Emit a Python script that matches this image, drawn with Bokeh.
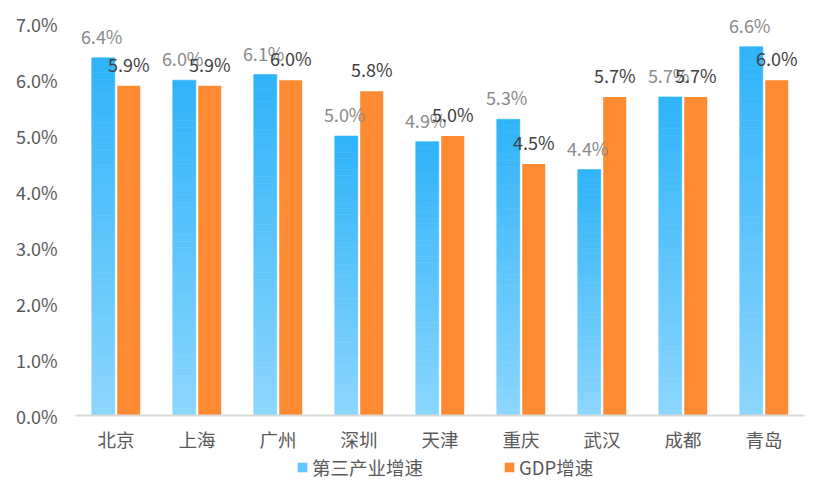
from bokeh.plotting import figure
from bokeh.layouts import column
from bokeh.models import (ColumnDataSource, FactorRange, FixedTicker, PrintfTickFormatter,
                          Legend, LegendItem, Range1d)
from bokeh.transform import dodge
from bokeh.core.properties import value
from bokeh.embed import file_html
from bokeh.resources import INLINE

cities = ["北京", "上海", "广州", "深圳", "天津", "重庆", "武汉", "成都", "青岛"]
tertiary = [6.4, 6.0, 6.1, 5.0, 4.9, 5.3, 4.4, 5.7, 6.6]
gdp = [5.9, 5.9, 6.0, 5.8, 5.0, 4.5, 5.7, 5.7, 6.0]
y_ticks = [0, 1, 2, 3, 4, 5, 6, 7]
series_names = ["第三产业增速", "GDP增速"]

FONT = "Noto Sans CJK SC"
TOP_C = (0x2E, 0xB3, 0xF9)
BOT_C = (0x8C, 0xD6, 0xFE)
ORANGE = "#FE8A32"
N = 50
OFF = 0.157
BW = 0.284

def mix(t):
    r = [int(round(BOT_C[i] + (TOP_C[i] - BOT_C[i]) * t)) for i in range(3)]
    return "#%02x%02x%02x" % tuple(r)

# gradient slices for the blue series
sx, sb, st, sc = [], [], [], []
for c, v in zip(cities, tertiary):
    for k in range(N):
        sx.append(c)
        sb.append(v * k / N)
        st.append(v * (k + 1) / N)
        sc.append(mix((k + 0.5) / N))
slices = ColumnDataSource(dict(x=sx, bottom=sb, top=st, color=sc))

src = ColumnDataSource(dict(
    x=cities, t=tertiary, g=gdp,
    tl=[f"{v:.1f}%" for v in tertiary],
    gl=[f"{v:.1f}%" for v in gdp],
))

p = figure(x_range=FactorRange(*cities), y_range=Range1d(0, 7.39),
           width=820, height=455, output_backend="svg", toolbar_location=None,
           min_border_left=75, min_border_right=16, min_border_top=2,
           min_border_bottom=40)
p.outline_line_color = None
p.xgrid.grid_line_color = None
p.ygrid.grid_line_color = None

p.vbar(x=dodge("x", -OFF, range=p.x_range), bottom="bottom", top="top", width=BW,
       source=slices, fill_color="color", line_color="color", line_width=0.6)
p.vbar(x=dodge("x", OFF, range=p.x_range), top="g", bottom=0, width=BW,
       source=src, fill_color=ORANGE, line_color=None)

p.text(x=dodge("x", -OFF - 0.02, range=p.x_range), y="t", text="tl", source=src,
       text_align="center", text_baseline="middle", y_offset=-22,
       text_font=value(FONT), text_font_size="18px", text_color="#8A8A8A")
p.text(x=dodge("x", OFF, range=p.x_range), y="g", text="gl", source=src,
       text_align="center", text_baseline="middle", y_offset=-22,
       text_font=value(FONT), text_font_size="18px", text_color="#404040")

ya = p.yaxis[0]
ya.ticker = FixedTicker(ticks=y_ticks)
ya.formatter = PrintfTickFormatter(format="%.1f%%")
ya.axis_line_color = None
ya.major_tick_line_color = None
ya.minor_tick_line_color = None
ya.major_label_standoff = 12
ya.major_label_text_font = FONT
ya.major_label_text_font_size = "18px"
ya.major_label_text_color = "#595959"

xa = p.xaxis[0]
xa.axis_line_color = "#D9D9D9"
xa.axis_line_width = 2
xa.major_tick_line_color = None
xa.minor_tick_line_color = None
xa.major_label_standoff = 4
xa.major_label_text_font = FONT
xa.major_label_text_font_size = "18.5px"
xa.major_label_text_color = "#595959"

# legend in its own strip below the chart
lg = figure(width=820, height=40, x_range=Range1d(0, 1), y_range=Range1d(0, 1),
            output_backend="svg", toolbar_location=None, min_border=0,
            x_axis_location=None, y_axis_location=None)
lg.xgrid.grid_line_color = None
lg.ygrid.grid_line_color = None
lg.outline_line_color = None
hidden = ColumnDataSource(dict(x=[5.0], top=[0.0]))
lb = lg.vbar(x="x", top="top", width=0.1, source=hidden, fill_color=mix(0.45), line_color=None)
lo = lg.vbar(x="x", top="top", width=0.1, source=hidden, fill_color=ORANGE, line_color=None)

legend = Legend(items=[
    LegendItem(label=series_names[0], renderers=[lb]),
    LegendItem(label=series_names[1], renderers=[lo]),
], orientation="horizontal", location=(221, 15))
legend.border_line_color = None
legend.background_fill_alpha = 0
legend.label_text_font = FONT
legend.label_text_font_size = "18.5px"
legend.label_text_line_height = 1.0
legend.label_text_color = "#595959"
legend.glyph_width = 12
legend.glyph_height = 12
legend.label_standoff = 4
legend.spacing = 80
legend.padding = 2
legend.margin = 0
lg.add_layout(legend, "center")

page = column(p, lg, spacing=0)
open("out.html", "w").write(file_html(page, INLINE))
